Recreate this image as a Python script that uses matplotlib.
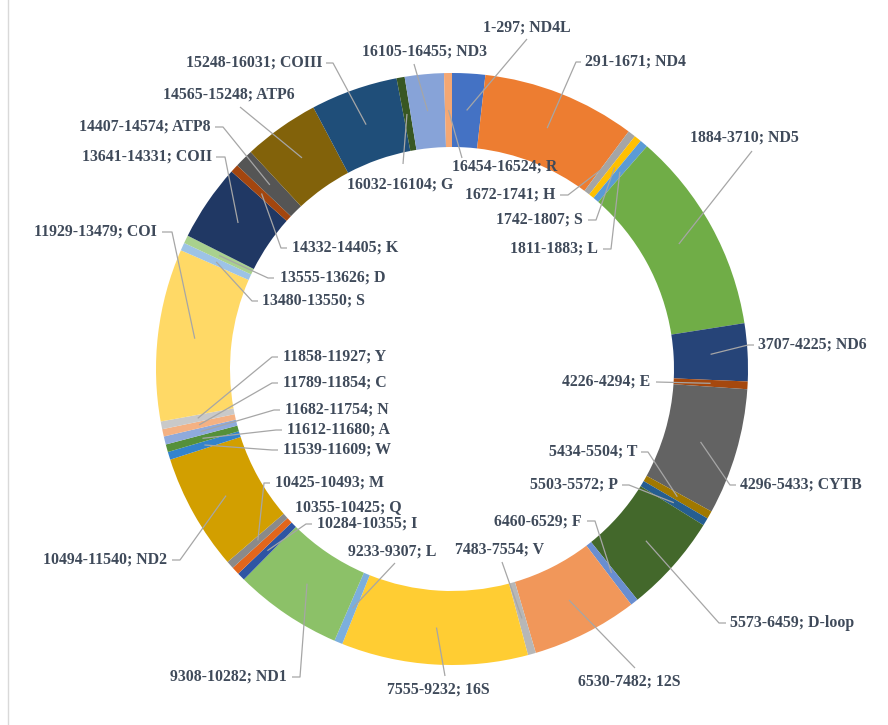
import matplotlib
matplotlib.use("Agg")
import matplotlib.pyplot as plt
import numpy as np

# gene segments of the mitogenome, in order round the ring (clockwise from top)
genes = ['ND4L', 'ND4', 'H', 'S', 'L', 'ND5', 'ND6', 'E', 'CYTB', 'T', 'P', 'D-loop',
         'F', '12S', 'V', '16S', 'L', 'ND1', 'I', 'Q', 'M', 'ND2', 'W', 'A', 'N', 'C',
         'Y', 'COI', 'S', 'D', 'COII', 'K', 'ATP8', 'ATP6', 'COIII', 'G', 'ND3', 'R']
starts = [1, 291, 1672, 1742, 1811, 1884, 3707, 4226, 4296, 5434, 5503, 5573,
          6460, 6530, 7483, 7555, 9233, 9308, 10284, 10355, 10425, 10494, 11539, 11612, 11682, 11789,
          11858, 11929, 13480, 13555, 13641, 14332, 14407, 14565, 15248, 16032, 16105, 16454]
ends = [297, 1671, 1741, 1807, 1883, 3710, 4225, 4294, 5433, 5504, 5572, 6459,
        6529, 7482, 7554, 9232, 9307, 10282, 10355, 10425, 10493, 11540, 11609, 11680, 11754, 11854,
        11927, 13479, 13550, 13626, 14331, 14405, 14574, 15248, 16031, 16104, 16455, 16524]

colors = ['#4472C4', '#ED7D31', '#A5A5A5', '#FFC000', '#5B9BD5', '#70AD47',
          '#264478', '#A5480E', '#636363', '#A07800', '#255E91', '#43682B',
          '#698ED0', '#F1975A', '#B7B7B7', '#FFCD33', '#7CAFDD', '#8CC168',
          '#2F55A3', '#E2661C', '#8A8A8A', '#D29F00', '#3383CC', '#55903A',
          '#8FAADC', '#F4B183', '#C9C9C9', '#FFD966', '#9DC3E6', '#A9D18E',
          '#203864', '#A3460F', '#555555', '#82620A', '#1F4E79', '#385723',
          '#87A3D8', '#F4A773']

sizes = [e - s + 1 for s, e in zip(starts, ends)]
labels = [f'{s}-{e}; {g}' for s, e, g in zip(starts, ends, genes)]

# label layout in image pixels: text x, text y, alignment, leader start x, y, horizontal stub
label_pos = [
    (527, 28, 'center', 527, 39, 0), (585, 62, 'left', 581, 62, -5),
    (555, 195, 'right', 560, 195, 8), (583, 220, 'right', 588, 220, 8),
    (598, 249, 'right', 603, 249, 8), (690, 138, 'left', 752, 151, 0),
    (758, 345, 'left', 754, 345, -6), (650, 382, 'right', 656, 382, 0),
    (740, 485, 'left', 736, 485, -6), (637, 452, 'right', 641, 452, 7),
    (618, 485, 'right', 622, 485, 7), (730, 623, 'left', 726, 623, -7),
    (582, 522, 'right', 587, 521, 8), (578, 682, 'left', 635, 668, 0),
    (455, 550, 'left', 502, 562, 0), (387, 690, 'left', 445, 676, 0),
    (348, 552, 'left', 395, 563, 0), (287, 677, 'right', 292, 677, 8),
    (317, 524, 'left', 312, 524, -6), (295, 507, 'left', None, None, 0),
    (275, 483, 'left', 270, 483, -6), (167, 560, 'right', 172, 560, 8),
    (283, 450, 'left', 278, 450, -6), (287, 430, 'left', 282, 430, -6),
    (285, 410, 'left', 280, 410, -6), (283, 383, 'left', 278, 383, -6),
    (283, 357, 'left', 278, 357, -6), (157, 232, 'right', 162, 232, 10),
    (262, 301, 'left', 258, 301, -6), (280, 278, 'left', 274, 278, -6),
    (212, 157, 'right', 216, 157, 9), (292, 248, 'left', 287, 248, -6),
    (210, 127, 'right', 215, 127, 8), (163, 95, 'left', 240, 107, 0),
    (322, 63, 'right', 326, 63, 7), (347, 185, 'left', 403, 164, 0),
    (487, 52, 'right', 414, 64, 0), (452, 167, 'left', 462, 158, 0),
]

W, H = 888, 725
fig = plt.figure(figsize=(W / 100, H / 100), dpi=100)
ax = fig.add_axes([0, 0, 1, 1])

# y axis runs downward (image pixels), so start at -90 and go "counterclock" = clockwise on screen
wedges, _ = ax.pie(sizes, colors=colors, radius=296, center=(452, 369),
                   startangle=-90, counterclock=True,
                   wedgeprops=dict(width=74, linewidth=0))

ax.set_xlim(0, W)
ax.set_ylim(H, 0)
ax.set_aspect('equal')
ax.axis('off')

text_color = '#3F4A5A'
line_color = '#A6A6A6'
for w, lab, (tx, ty, ha, lx, ly, dx) in zip(wedges, labels, label_pos):
    ax.text(tx, ty, lab, ha=ha, va='center', fontsize=11.4, fontweight='bold',
            family='Liberation Serif', color=text_color)
    if lx is None:
        continue
    # leader ends in the middle of the slice
    mid = np.deg2rad((w.theta1 + w.theta2) / 2)
    rm = w.r - w.width / 2
    px = w.center[0] + rm * np.cos(mid)
    py = w.center[1] + rm * np.sin(mid)
    ax.plot([lx, lx + dx, px], [ly, ly, py], color=line_color, lw=0.9, solid_capstyle='butt')

# light chart border
ax.plot([8, 8], [0, H], color='#D9D9D9', lw=1)

fig.savefig('out.png', dpi=100)
